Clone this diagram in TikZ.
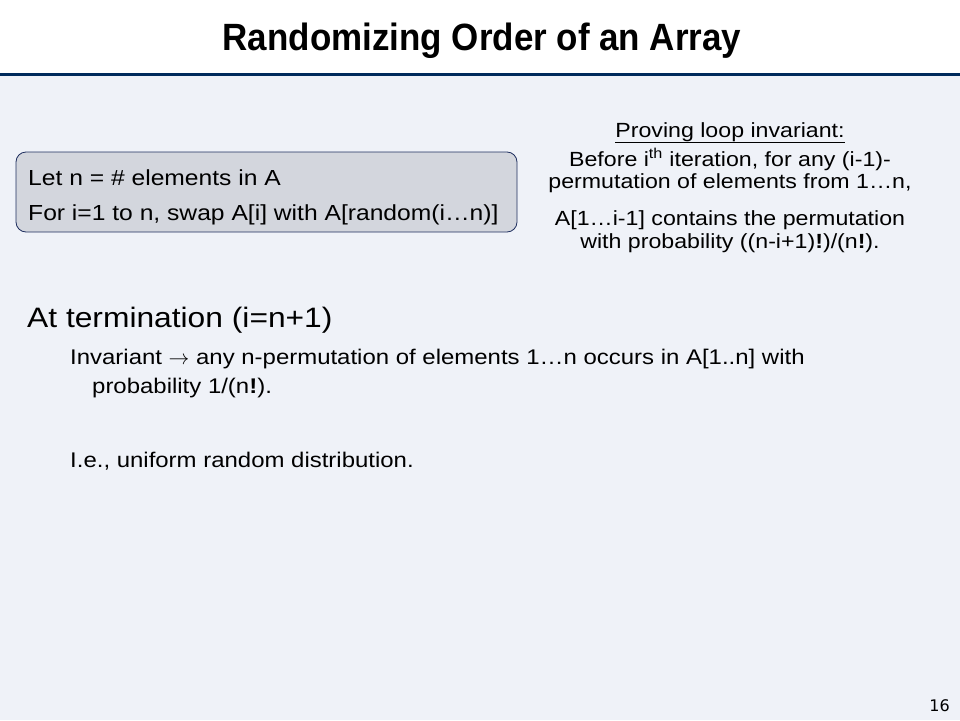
\documentclass[tikz,border=0pt]{standalone}
\usepackage{fontspec}
\setmainfont[FakeStretch=1.13]{Liberation Sans}
\newfontfamily\titlefont[FakeStretch=0.92]{Liberation Sans}
\newfontfamily\numfont{DejaVu Sans}
\usetikzlibrary{positioning}
\definecolor{slidenavy}{HTML}{002B5C}
\definecolor{slidebg}{HTML}{EFF2F8}
\definecolor{codegrey}{HTML}{D3D6DD}
\definecolor{codeline}{HTML}{1F2F5F}
\tikzset{
  bodytext/.style={anchor=base west, inner sep=0pt, font=\fontsize{21.2}{25}\selectfont},
  prooftext/.style={anchor=base, inner sep=0pt, font=\fontsize{20.5}{24}\selectfont},
  codetext/.style={anchor=base west, inner sep=0pt, font=\fontsize{21.8}{25}\selectfont}
}
\begin{document}
\begin{tikzpicture}[x=1pt, y=-1pt]
				\useasboundingbox (0,0) rectangle (960,720);
				\fill[white] (0,0) rectangle (960,74);
				\fill[slidebg] (0,74) rectangle (960,720);
				\draw[slidenavy, line width=3pt] (0,74.5) -- (960,74.5);
				\draw (482,50) node[anchor=base, inner sep=0pt, font=\titlefont\bfseries\fontsize{38}{40}\selectfont] (title) {Randomizing Order of an Array};
				
				% Algorithmus
				\draw[codeline, fill=codegrey, rounded corners=10pt, line width=0.8pt] (16,152) rectangle (517,232);
				\draw (28,185) node[codetext] (letn) {Let n = \# elements in A};
				\draw (28,220) node[codetext] (fori) {For i=1 to n, swap A[i] with A[random(i\ldots n)]};
				
				% Schleifeninvariante
				\draw (730,137) node[prooftext] (proving) {\underline{Proving loop invariant:}};
				\draw (730,166) node[prooftext] (before) {Before i\textsuperscript{th} iteration, for any (i-1)-};
				\draw (730,188) node[prooftext] (perm) {permutation of elements from 1\ldots n,};
				\draw (730,225) node[prooftext] (contains) {A[1\ldots i-1] contains the permutation};
				\draw (730,248) node[prooftext] (withprob) {with probability ((n-i+1)\textbf{!})/(n\textbf{!}).};
				
				% Terminierung
				\draw (27,327) node[bodytext, font=\fontsize{28.1}{32}\selectfont] (term) {At termination (i=n+1)};
				\draw (70,364) node[bodytext] (invar) {Invariant $\rightarrow$ any n-permutation of elements 1\ldots n occurs in A[1..n] with};
				\draw (92,393) node[bodytext] (prob) {probability 1/(n\textbf{!}).};
				\draw (70,467) node[bodytext] (uniform) {I.e., uniform random distribution.};
				
				\draw (950,711) node[anchor=base east, inner sep=0pt, font=\numfont\fontsize{16}{18}\selectfont] (page) {16};
			\end{tikzpicture}
\end{document}
